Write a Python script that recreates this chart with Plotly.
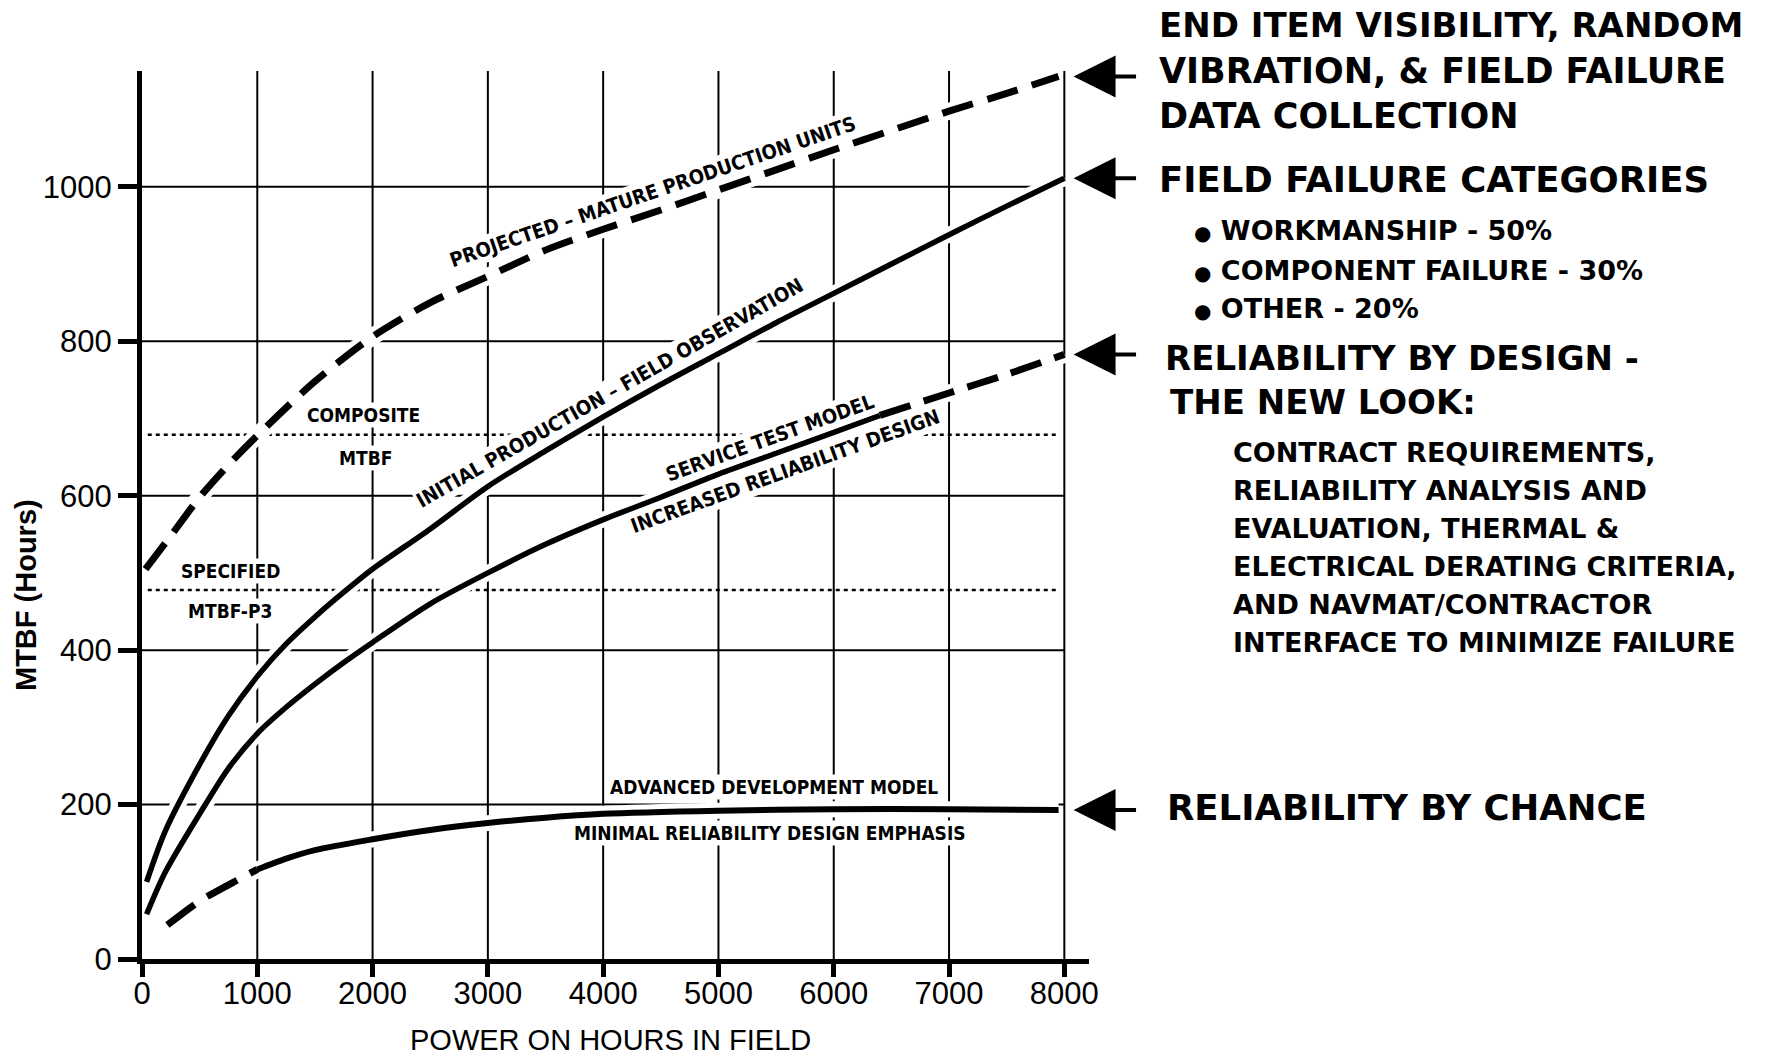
import numpy as np
import plotly.graph_objects as go

# ---------------- data ----------------
x_tick_vals = [0, 1000, 2000, 3000, 4000, 5000, 6000, 7000, 8000]
y_tick_vals = [0, 200, 400, 600, 800, 1000]

# Projected - mature production units (dashed)
proj_x = [30, 250, 500, 750, 1000, 1500, 2000, 2500, 3000, 3500, 4000, 4500, 5000, 5500, 6000, 6500, 7000, 7500, 7950]
proj_y = [505, 548, 598, 640, 678, 748, 806, 850, 884, 918, 945, 970, 996, 1022, 1048, 1073, 1098, 1121, 1143]

# Initial production - field observation (solid)
init_x = [40, 200, 500, 750, 1000, 1250, 1500, 1750, 2000, 2500, 3000, 3500, 4000, 4500, 5000, 5500, 6000, 6500, 7000, 7500, 8000]
init_y = [100, 165, 252, 315, 366, 408, 443, 475, 505, 557, 612, 658, 702, 744, 784, 824, 862, 900, 938, 975, 1011]

# Service test model / increased reliability design (solid, then projected dashed)
stm_x = [40, 200, 500, 750, 1000, 1250, 1500, 1750, 2000, 2500, 3000, 3500, 4000, 4500, 5000, 5500, 6000, 6400]
stm_y = [58, 112, 188, 247, 292, 326, 356, 384, 410, 460, 500, 537, 569, 598, 628, 655, 682, 704]
stm_proj_x = [6400, 7000, 7500, 8000]
stm_proj_y = [704, 733, 757, 783]

# Advanced development model / minimal reliability design emphasis
adm_early_x = [220, 500, 850, 1000]
adm_early_y = [44, 75, 104, 116]
adm_x = [1000, 1250, 1500, 2000, 2500, 3000, 3500, 4000, 5000, 6000, 7000, 7950]
adm_y = [116, 130, 141, 155, 167, 176, 183, 188, 192, 194, 194, 193]

# reference MTBF levels (dotted)
composite_mtbf = 679
specified_mtbf = 478
level_x = [50, 7950]

# ---------------- geometry ----------------
W, H = 1777, 1056
ML, MT = 142, 71
PW, PH = 947, 888
MR, MB = W - ML - PW, H - MT - PH
X_MAX, Y_MAX = 8214, 1150
KX, KY = PW / X_MAX, PH / Y_MAX


def paper(px, py):
    """picture pixel -> paper coordinates"""
    return (px - ML) / PW, 1 - (py - MT) / PH


TICK_FONT = "Liberation Sans, Arial, Helvetica, sans-serif"
LABEL_FONT = "Liberation Sans Narrow, Arial Narrow, DejaVu Sans Condensed, Liberation Sans, sans-serif"
HEAD_FONT = "DejaVu Sans, Verdana, sans-serif"

fig = go.Figure()

# dotted reference levels
for lvl in (composite_mtbf, specified_mtbf):
    fig.add_trace(go.Scatter(x=level_x, y=[lvl, lvl], mode="lines",
                             line=dict(color="black", width=2.5, dash="4px,4px"),
                             hoverinfo="skip", showlegend=False))

curves = [
    (proj_x, proj_y, 7, "32px,15px"),
    (init_x, init_y, 5.5, "solid"),
    (stm_x, stm_y, 5.5, "solid"),
    (stm_proj_x, stm_proj_y, 7, "32px,14px"),
    (adm_early_x, adm_early_y, 7, "34px,15px"),
    (adm_x, adm_y, 6, "solid"),
]

# white halos (interrupt grid where curves cross)
for xs, ys, w, d in curves:
    fig.add_trace(go.Scatter(x=xs, y=ys, mode="lines",
                             line=dict(color="white", width=w + 10, shape="spline", smoothing=0.8),
                             hoverinfo="skip", showlegend=False))
# black curves
for xs, ys, w, d in curves:
    fig.add_trace(go.Scatter(x=xs, y=ys, mode="lines",
                             line=dict(color="black", width=w, dash=d, shape="spline", smoothing=0.8),
                             hoverinfo="skip", showlegend=False))

# grid
shapes = []
for xv in x_tick_vals[1:]:
    shapes.append(dict(type="line", xref="x", yref="y", x0=xv, x1=xv, y0=0, y1=Y_MAX,
                       line=dict(color="black", width=2), layer="below"))
for yv in y_tick_vals[1:]:
    shapes.append(dict(type="line", xref="x", yref="y", x0=0, x1=x_tick_vals[-1], y0=yv, y1=yv,
                       line=dict(color="black", width=2), layer="below"))

annotations = []


def curve_label(xs, ys, xc, offset, text, size=20):
    yc = float(np.interp(xc, xs, ys))
    d = 300
    slope = (np.interp(xc + d, xs, ys) - np.interp(xc - d, xs, ys)) / (2 * d)
    a = np.arctan(slope * KY / KX)
    return dict(x=xc - np.sin(a) * offset / KX, y=yc + np.cos(a) * offset / KY,
                xref="x", yref="y", text="<b>" + text + "</b>", textangle=-np.degrees(a),
                showarrow=False, xanchor="center", yanchor="middle",
                font=dict(family=LABEL_FONT, size=size, color="black"),
                bgcolor="white", borderpad=1)


stm_all_x = stm_x + stm_proj_x[1:]
stm_all_y = stm_y + stm_proj_y[1:]
annotations += [
    curve_label(proj_x, proj_y, 4480, 20, "PROJECTED – MATURE PRODUCTION UNITS"),
    curve_label(init_x, init_y, 4130, 18, "INITIAL PRODUCTION – FIELD OBSERVATION"),
    curve_label(stm_all_x, stm_all_y, 5493, 17, "SERVICE TEST MODEL"),
    curve_label(stm_all_x, stm_all_y, 5522, -20, "INCREASED RELIABILITY DESIGN"),
]


def flat_label(x, y, text, size=19):
    return dict(x=x, y=y, xref="x", yref="y", text="<b>" + text + "</b>", showarrow=False,
                xanchor="center", yanchor="middle", bgcolor="white", borderpad=1,
                font=dict(family=LABEL_FONT, size=size, color="black"))


annotations += [
    flat_label(1922, 705, "COMPOSITE"),
    flat_label(1937, 649, "MTBF"),
    flat_label(766, 502, "SPECIFIED"),
    flat_label(766, 451, "MTBF-P3"),
    flat_label(5478, 223, "ADVANCED DEVELOPMENT MODEL"),
    flat_label(5449, 163, "MINIMAL RELIABILITY DESIGN EMPHASIS"),
]

# arrows pointing at the curve ends
for ys in (proj_y, init_y, stm_proj_y, adm_y):
    annotations.append(dict(x=8080, y=ys[-1], xref="x", yref="y", ax=64, ay=0, text="",
                            showarrow=True, arrowhead=2, arrowsize=2.1, arrowwidth=4,
                            arrowcolor="black", standoff=0))

BUL = '<span style="font-size:20px">●</span> '
right_text = [
    ("END ITEM VISIBILITY, RANDOM", 1158, 25, 34),
    ("VIBRATION, &amp; FIELD FAILURE", 1158, 71, 35),
    ("DATA COLLECTION", 1158, 116, 35),
    ("FIELD FAILURE CATEGORIES", 1158, 179.5, 35.5),
    (BUL + "WORKMANSHIP - 50%", 1193, 231, 27),
    (BUL + "COMPONENT FAILURE - 30%", 1193, 270, 27),
    (BUL + "OTHER - 20%", 1193, 308.5, 27),
    ("RELIABILITY BY DESIGN -", 1164, 358, 34),
    ("THE NEW LOOK:", 1169, 402, 34),
    ("CONTRACT REQUIREMENTS,", 1232, 452, 27),
    ("RELIABILITY ANALYSIS AND", 1232, 490, 27),
    ("EVALUATION, THERMAL &amp;", 1232, 528, 27),
    ("ELECTRICAL DERATING CRITERIA,", 1232, 566, 27),
    ("AND NAVMAT/CONTRACTOR", 1232, 604, 27),
    ("INTERFACE TO MINIMIZE FAILURE", 1232, 642, 27),
    ("RELIABILITY BY CHANCE", 1166, 807, 35.5),
]
for txt, px, py, size in right_text:
    xp, yp = paper(px, py)
    annotations.append(dict(x=xp, y=yp, xref="paper", yref="paper", text="<b>" + txt + "</b>",
                            showarrow=False, xanchor="left", yanchor="middle", borderpad=0,
                            font=dict(family=HEAD_FONT, size=size, color="black")))

# axis titles
xp, yp = paper(610, 1040)
annotations.append(dict(x=xp, y=yp, xref="paper", yref="paper", text="POWER ON HOURS IN FIELD",
                        showarrow=False, xanchor="center", yanchor="middle",
                        font=dict(family=TICK_FONT, size=29, color="black")))
xp, yp = paper(26, 595)
annotations.append(dict(x=xp, y=yp, xref="paper", yref="paper", text="<b>MTBF (Hours)</b>",
                        showarrow=False, xanchor="center", yanchor="middle", textangle=-90,
                        font=dict(family=TICK_FONT, size=29, color="black")))

fig.update_layout(
    width=W, height=H,
    margin=dict(l=ML, r=MR, t=MT, b=MB, pad=0),
    paper_bgcolor="white", plot_bgcolor="white",
    showlegend=False,
    shapes=shapes, annotations=annotations,
    xaxis=dict(range=[0, X_MAX], showgrid=False, zeroline=False, showline=True, linecolor="black",
               linewidth=5, ticks="outside", ticklen=13, tickwidth=5, tickcolor="black",
               tickvals=x_tick_vals, ticktext=[str(v) for v in x_tick_vals],
               ticklabelstandoff=-10,
               tickfont=dict(family=TICK_FONT, size=31, color="black")),
    yaxis=dict(range=[0, Y_MAX], showgrid=False, zeroline=False, showline=True, linecolor="black",
               linewidth=5, ticks="outside", ticklen=19, tickwidth=4.5, tickcolor="black",
               tickvals=y_tick_vals, ticktext=[str(v) for v in y_tick_vals],
               tickfont=dict(family=TICK_FONT, size=31, color="black")),
)

fig.write_html("out.html", config={"displayModeBar": False},
               post_script="document.body.style.margin='0px';document.body.style.overflow='hidden';")
